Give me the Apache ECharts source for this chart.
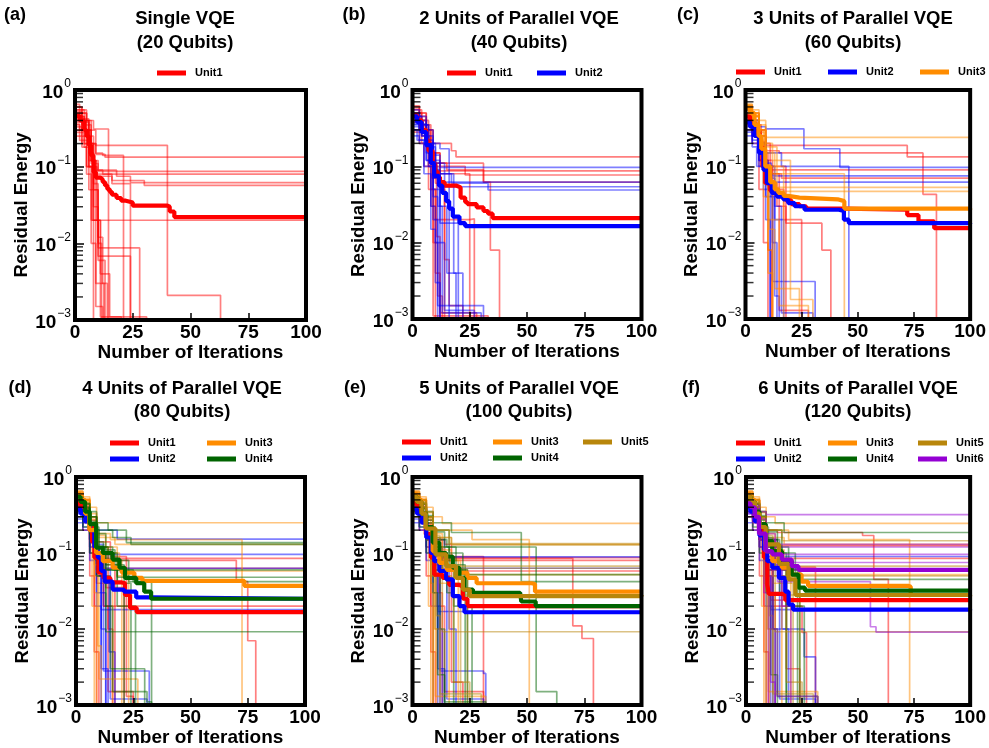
<!DOCTYPE html>
<html><head><meta charset="utf-8">
<script src="https://cdn.jsdelivr.net/npm/echarts@6/dist/echarts.min.js"></script>
<style>html,body{margin:0;padding:0;background:#fff}#c{width:989px;height:748px}</style>
</head><body><div id="c"></div>
<script>
// ---------- labels ----------
const unitNames = ['Unit1','Unit2','Unit3','Unit4','Unit5','Unit6'];
const unitColors = ['#ff0000','#0000ff','#ff8c00','#006400','#b8860b','#9400d3'];
const panelLetters = ['(a)','(b)','(c)','(d)','(e)','(f)'];
const titleLine1 = ['Single VQE','2 Units of Parallel VQE','3 Units of Parallel VQE','4 Units of Parallel VQE','5 Units of Parallel VQE','6 Units of Parallel VQE'];
const titleLine2 = ['(20 Qubits)','(40 Qubits)','(60 Qubits)','(80 Qubits)','(100 Qubits)','(120 Qubits)'];
const xTicks = [0,25,50,75,100];
const yMajor = [1,0.1,0.01,0.001];
const yMinor = [0.002,0.003,0.004,0.005,0.006,0.007,0.008,0.009,0.02,0.03,0.04,0.05,0.06,0.07,0.08,0.09,0.2,0.3,0.4,0.5,0.6,0.7,0.8,0.9];
const OFF = 0.00001; // value below the axis floor (run reached ~0)

// ---------- runs: flat [x, y, x, y, ...] step points ----------
const runsA1 = [
 [0,0.6, 3,0.5, 5,0.35, 7,0.2, 9,0.145, 13,0.133, 100,0.133],
 [0,0.55, 2,0.45, 4,0.3, 6,0.2, 8,0.12, 10,0.087, 100,0.087],
 [0,0.45, 3,0.35, 5,0.22, 7,0.12, 9,0.09, 12,0.08, 100,0.08],
 [0,0.4, 3,0.3, 5,0.2, 7,0.11, 10,0.09, 18,0.075, 24,0.062, 100,0.062],
 [0,0.35, 2,0.28, 4,0.18, 6,0.1, 9,0.08, 16,0.066, 30,0.057, 100,0.057],
 [0,0.3, 3,0.2, 5,0.1, 7.5,0.02, 100,0.0205],
 [0,0.5, 3,0.4, 6,0.3, 9,0.19, 40,0.0021, 63,OFF],
 [0,0.65, 2,0.55, 5,0.4, 8,0.31, 14.5,OFF],
 [0,0.55, 4,0.4, 7,0.2, 9,0.15, 12,0.14, 21,OFF],
 [0,0.45, 4,0.3, 7,0.12, 9,0.075, 16,0.06, 24,OFF],
 [0,0.38, 3,0.3, 6,0.15, 8,0.05, 10,0.0087, 28,OFF],
 [0,0.33, 3,0.25, 6,0.12, 8,0.03, 10,0.0068, 24,OFF],
 [0,0.28, 2,0.22, 5,0.1, 7,0.02, 9,0.003, 11,0.0011, 31,OFF],
 [0,0.25, 3,0.18, 5,0.08, 7,0.01, 9,0.0015, 12,OFF],
 [0,0.5, 3,0.4, 6,0.15, 8,0.05, 10,0.012, 12,0.003, 14,OFF],
 [0,0.42, 3,0.3, 6,0.1, 8,0.02, 10,0.006, 13,OFF],
 [0,0.6, 3,0.5, 5,0.3, 7,0.12, 9,0.02, 11,0.004, 15,0.0011, 20,OFF],
 [0,0.36, 2,0.3, 4,0.2, 6,0.05, 8,OFF],
 [0,0.52, 3,0.42, 6,0.25, 8,0.1, 9.5,0.02, 11,0.003, 12.5,OFF],
 [0,0.47, 3,0.38, 6,0.2, 8,0.06, 10,0.01, 11.5,OFF]
];
const runsB1 = [
 [0,0.6, 3,0.5, 6,0.35, 8,0.2, 17,0.16, 19,0.133, 100,0.133],
 [0,0.5, 3,0.4, 6,0.25, 8,0.12, 10,0.087, 100,0.085],
 [0,0.45, 4,0.3, 7,0.15, 9,0.1, 23,0.077, 100,0.077],
 [0,0.4, 3,0.3, 6,0.18, 9,0.11, 15,0.09, 31,0.062, 100,0.062],
 [0,0.55, 4,0.4, 7,0.2, 9,0.11, 31,0.062, 34,0.008, 38,OFF],
 [0,0.3, 4,0.2, 7,0.05, 10,0.02, 25,0.0205, 27,OFF],
 [0,0.62, 3,0.5, 6,0.3, 9,0.0011, 33,OFF],
 [0,0.45, 3,0.35, 6,0.2, 8,0.05, 10,OFF],
 [0,0.4, 4,0.25, 7,0.1, 9,0.01, 11,0.002, 13,OFF],
 [0,0.5, 4,0.35, 7,0.15, 10,0.06, 14,OFF],
 [0,0.28, 3,0.2, 5,0.1, 8,0.03, 10,0.004, 12,0.0012, 28,OFF],
 [0,0.38, 4,0.3, 8,0.15, 12,0.08, 25,OFF],
 [0,0.56, 3,0.45, 6,0.3, 9,0.15, 12,0.05, 14,0.006, 16,0.0015, 22,OFF],
 [0,0.42, 3,0.33, 6,0.18, 8.5,0.07, 10.5,0.012, 12,OFF]
];
const runsB2 = [
 [0,0.4, 3,0.3, 6,0.2, 9,0.12, 12,0.097, 100,0.097],
 [0,0.45, 4,0.35, 7,0.2, 10,0.08, 14,0.062, 100,0.061],
 [0,0.3, 3,0.22, 6,0.12, 9,0.07, 12,0.054, 100,0.054],
 [0,0.35, 4,0.25, 7,0.15, 10,0.08, 17,0.06, 33,0.049, 100,0.049],
 [0,0.5, 3,0.4, 6,0.3, 9,0.2, 12,0.17, 16,OFF],
 [0,0.42, 3,0.3, 6,0.15, 9,0.02, 11,OFF],
 [0,0.25, 3,0.2, 5,0.1, 8,0.015, 10,0.003, 12,OFF],
 [0,0.38, 3,0.28, 6,0.12, 9,0.05, 12,0.018, 20,OFF],
 [0,0.33, 4,0.25, 7,0.1, 9,0.04, 11,0.0015, 31,OFF],
 [0,0.48, 3,0.35, 7,0.18, 10,0.11, 14,0.08, 18,0.004, 22,OFF],
 [0,0.3, 2,0.22, 5,0.08, 8,0.03, 10,0.01, 14,0.0013, 27,OFF],
 [0,0.55, 3,0.45, 6,0.25, 9,0.14, 12,OFF],
 [0,0.36, 3,0.3, 6,0.18, 9,0.09, 12,0.03, 15,0.004, 19,OFF],
 [0,0.44, 3,0.36, 6,0.22, 9,0.1, 11,0.03, 13,0.0012, 30,OFF]
];
const runsC1 = [
 [0,0.55, 3,0.45, 6,0.3, 9,0.188, 72,0.133, 100,0.133],
 [0,0.5, 3,0.4, 6,0.25, 9,0.16, 15,0.15, 79,0.043, 85,OFF],
 [0,0.45, 4,0.3, 7,0.15, 10,0.09, 100,0.085],
 [0,0.4, 3,0.3, 6,0.15, 9,0.08, 16,0.07, 100,0.07],
 [0,0.35, 3,0.25, 6,0.12, 9,0.06, 14,0.03, 18,0.018, 34,0.008, 38,OFF],
 [0,0.62, 3,0.5, 6,0.3, 9,0.1, 12,OFF],
 [0,0.3, 3,0.2, 6,0.05, 8,0.01, 10,OFF],
 [0,0.42, 4,0.3, 7,0.12, 10,0.05, 17,0.02, 25,OFF],
 [0,0.38, 3,0.3, 6,0.2, 9,0.12, 12,0.08, 15,0.0013, 28,OFF],
 [0,0.5, 4,0.35, 7,0.2, 11,0.1, 18,OFF],
 [0,0.46, 3,0.37, 6,0.21, 8.5,0.06, 10,0.008, 11.5,OFF]
];
const runsC2 = [
 [0,0.45, 3,0.4, 6,0.33, 9,0.31, 26,0.17, 42,0.097, 100,0.097],
 [0,0.4, 3,0.3, 6,0.2, 9,0.15, 16,0.1, 46,OFF],
 [0,0.35, 3,0.25, 6,0.15, 9,0.08, 12,0.075, 100,0.073],
 [0,0.3, 3,0.22, 6,0.12, 9,0.07, 13,0.062, 100,0.062],
 [0,0.38, 3,0.28, 6,0.15, 9,0.02, 11,OFF],
 [0,0.45, 3,0.35, 6,0.2, 9,0.06, 12,0.01, 14,OFF],
 [0,0.28, 3,0.2, 6,0.1, 9,0.04, 12,0.0031, 31,OFF],
 [0,0.33, 3,0.25, 6,0.12, 10,0.05, 13,0.02, 17,OFF],
 [0,0.5, 3,0.4, 6,0.25, 9,0.1, 13,0.03, 16,0.0012, 30,OFF],
 [0,0.25, 3,0.18, 5,0.1, 8,0.05, 11,OFF],
 [0,0.41, 3,0.33, 6,0.2, 9,0.11, 11.5,0.04, 13,0.002, 15,OFF]
];
const runsC3 = [
 [0,0.65, 3,0.55, 6,0.4, 9,0.24, 100,0.24],
 [0,0.6, 3,0.5, 6,0.3, 9,0.15, 13,0.08, 44,OFF],
 [0,0.55, 3,0.45, 6,0.25, 9,0.1, 14,0.053, 100,0.053],
 [0,0.5, 3,0.4, 6,0.2, 9,0.08, 13,0.047, 100,0.047],
 [0,0.62, 3,0.5, 6,0.3, 8,0.1, 10,0.02, 12,OFF],
 [0,0.58, 3,0.45, 6,0.25, 9,0.07, 12,0.02, 15,0.0015, 28,OFF],
 [0,0.55, 3,0.4, 6,0.2, 8,0.04, 10,0.004, 12,OFF],
 [0,0.6, 3,0.45, 6,0.3, 9,0.18, 14,0.1, 17,OFF],
 [0,0.48, 3,0.38, 6,0.22, 8,0.06, 10,0.008, 12,OFF],
 [0,0.65, 3,0.5, 6,0.35, 9,0.2, 12,0.12, 20,0.0018, 30,OFF],
 [0,0.57, 3,0.47, 6,0.28, 8.5,0.09, 10.5,0.015, 13,0.0025, 24,OFF]
];
const runsD1 = [
 [0,0.5, 3,0.4, 6,0.25, 9,0.1, 12,0.085, 100,0.085],
 [0,0.45, 3,0.35, 6,0.2, 9,0.12, 14,0.08, 70,0.042, 75,0.007, 78.5,OFF],
 [0,0.4, 3,0.3, 6,0.15, 9,0.07, 12,0.063, 100,0.063],
 [0,0.35, 3,0.25, 6,0.1, 9,0.04, 12,0.02, 100,0.02],
 [0,0.55, 3,0.4, 6,0.2, 8,0.02, 9,OFF],
 [0,0.3, 3,0.2, 6,0.05, 8,0.005, 10,OFF],
 [0,0.42, 3,0.3, 6,0.15, 9,0.06, 12,0.02, 14,0.0015, 25,OFF],
 [0,0.6, 3,0.5, 6,0.3, 9,0.1, 13,0.07, 17,OFF],
 [0,0.38, 3,0.28, 6,0.12, 9,0.05, 13,0.035, 21,OFF],
 [0,0.48, 3,0.4, 6,0.24, 9,0.12, 12,0.06, 14,0.01, 16,OFF],
 [0,0.52, 3,0.43, 6,0.27, 9,0.14, 15,0.09, 22,0.0013, 25,OFF]
];
const runsD2 = [
 [0,0.4, 3,0.35, 6,0.3, 9,0.2, 18,0.152, 100,0.152],
 [0,0.35, 3,0.3, 6,0.2, 9,0.12, 12,0.096, 100,0.096],
 [0,0.3, 3,0.25, 6,0.15, 9,0.08, 13,0.063, 100,0.063],
 [0,0.38, 3,0.3, 6,0.15, 9,0.05, 11,0.018, 100,0.018],
 [0,0.45, 3,0.35, 6,0.2, 9,0.05, 11,0.01, 13,OFF],
 [0,0.28, 3,0.22, 6,0.1, 9,0.03, 11,0.003, 14,OFF],
 [0,0.33, 3,0.26, 6,0.12, 9,0.05, 12,0.0028, 32,OFF],
 [0,0.5, 3,0.4, 6,0.25, 9,0.12, 12,0.06, 15,0.0012, 31,OFF],
 [0,0.25, 3,0.2, 6,0.08, 9,0.02, 11,OFF],
 [0,0.42, 3,0.34, 6,0.22, 9,0.13, 12,0.04, 14.5,0.005, 17,OFF],
 [0,0.36, 3,0.3, 6,0.19, 9,0.1, 11,0.03, 13,OFF]
];
const runsD3 = [
 [0,0.65, 3,0.55, 6,0.4, 9,0.25, 100,0.245],
 [0,0.6, 3,0.5, 6,0.3, 9,0.18, 15,0.15, 72.5,OFF],
 [0,0.55, 3,0.45, 6,0.3, 9,0.16, 17,0.13, 100,0.13],
 [0,0.5, 3,0.4, 6,0.25, 9,0.12, 14,0.1, 19,0.058, 100,0.058],
 [0,0.62, 3,0.5, 6,0.2, 7,0.02, 8,OFF],
 [0,0.58, 3,0.45, 6,0.2, 8,0.03, 9,OFF],
 [0,0.55, 3,0.4, 6,0.2, 8,0.05, 10,0.0022, 27,OFF],
 [0,0.65, 3,0.5, 6,0.3, 9,0.1, 12,0.04, 16,OFF],
 [0,0.5, 3,0.38, 6,0.2, 9,0.1, 13,0.08, 20,OFF],
 [0,0.6, 3,0.48, 6,0.28, 8,0.07, 9.5,0.006, 11,OFF],
 [0,0.63, 3,0.52, 6,0.33, 9,0.17, 13,0.12, 18,0.05, 23,OFF]
];
const runsD4 = [
 [0,0.55, 3,0.45, 6,0.35, 9,0.25, 14,0.2, 22,0.137, 100,0.137],
 [0,0.5, 3,0.4, 6,0.3, 9,0.2, 16,0.16, 24,0.13, 100,0.13],
 [0,0.45, 3,0.35, 6,0.25, 9,0.12, 14,0.06, 100,0.052],
 [0,0.4, 3,0.32, 6,0.2, 9,0.1, 13,0.07, 18,0.048, 100,0.048],
 [0,0.35, 3,0.28, 6,0.18, 9,0.1, 15,0.08, 23,0.042, 100,0.042],
 [0,0.3, 3,0.22, 6,0.1, 9,0.05, 13,0.0092, 100,0.0092],
 [0,0.5, 3,0.38, 6,0.22, 10,0.12, 16,0.06, 25,0.042, 33,OFF],
 [0,0.42, 3,0.33, 6,0.2, 10,0.1, 18,0.04, 24,OFF],
 [0,0.38, 3,0.3, 6,0.18, 9,0.08, 13,0.02, 16,0.0015, 31,0.0011, 33,OFF],
 [0,0.45, 3,0.35, 6,0.22, 9,0.12, 13,0.06, 18,0.02, 26,OFF],
 [0,0.53, 3,0.44, 6,0.3, 9,0.18, 13,0.11, 17,0.07, 21,OFF],
 [0,0.47, 3,0.39, 6,0.26, 9,0.14, 12,0.05, 15,0.003, 30,OFF]
];
const runsE1 = [
 [0,0.5, 3,0.4, 6,0.25, 9,0.12, 12,0.087, 100,0.087],
 [0,0.45, 3,0.35, 6,0.2, 9,0.12, 13,0.085, 70,0.011, 74,0.0075, 79,OFF],
 [0,0.4, 3,0.3, 6,0.15, 9,0.09, 13,0.08, 100,0.08],
 [0,0.35, 3,0.25, 6,0.12, 9,0.07, 13,0.058, 100,0.058],
 [0,0.55, 3,0.4, 6,0.2, 8,0.02, 9,OFF],
 [0,0.3, 3,0.2, 6,0.05, 8,0.005, 10,OFF],
 [0,0.42, 3,0.3, 6,0.15, 9,0.06, 12,0.02, 14,0.0015, 31,OFF],
 [0,0.6, 3,0.5, 6,0.3, 9,0.15, 14,0.13, 17,0.09, 31,OFF],
 [0,0.48, 3,0.39, 6,0.24, 9,0.11, 11.5,0.03, 13,OFF],
 [0,0.52, 3,0.43, 6,0.27, 9,0.15, 13,0.08, 17,0.002, 22,OFF]
];
const runsE2 = [
 [0,0.4, 3,0.35, 6,0.25, 9,0.15, 14,0.089, 100,0.089],
 [0,0.35, 3,0.3, 6,0.2, 9,0.12, 13,0.063, 100,0.063],
 [0,0.38, 3,0.3, 6,0.15, 9,0.05, 11,0.017, 100,0.0166],
 [0,0.45, 3,0.35, 6,0.2, 9,0.05, 11,0.01, 13,OFF],
 [0,0.28, 3,0.22, 6,0.1, 9,0.03, 11,0.003, 14,OFF],
 [0,0.33, 3,0.26, 6,0.12, 9,0.05, 12,0.0028, 31,0.0026, 32,OFF],
 [0,0.5, 3,0.4, 6,0.25, 9,0.12, 12,0.06, 15,0.0012, 31,OFF],
 [0,0.25, 3,0.2, 6,0.08, 9,0.02, 11,OFF],
 [0,0.42, 3,0.34, 6,0.21, 9,0.12, 12,0.07, 16,0.01, 19,OFF],
 [0,0.37, 3,0.31, 6,0.18, 8.5,0.08, 10.5,0.02, 12,OFF]
];
const runsE3 = [
 [0,0.65, 3,0.55, 6,0.4, 9,0.3, 13,0.245, 100,0.245],
 [0,0.6, 3,0.5, 6,0.3, 9,0.2, 26,0.15, 51,OFF],
 [0,0.55, 3,0.45, 6,0.3, 9,0.16, 17,0.13, 100,0.13],
 [0,0.5, 3,0.4, 6,0.25, 9,0.12, 14,0.08, 21,0.052, 100,0.052],
 [0,0.62, 3,0.5, 6,0.2, 7,0.02, 8,OFF],
 [0,0.58, 3,0.45, 6,0.2, 8,0.03, 9,OFF],
 [0,0.55, 3,0.4, 6,0.2, 8,0.05, 10,0.0013, 32,OFF],
 [0,0.65, 3,0.5, 6,0.3, 9,0.1, 12,0.04, 16,OFF],
 [0,0.5, 3,0.38, 6,0.2, 9,0.1, 13,0.08, 20,OFF],
 [0,0.6, 3,0.49, 6,0.29, 8,0.08, 9.5,0.01, 10.5,OFF],
 [0,0.63, 3,0.52, 6,0.34, 9,0.18, 13,0.11, 17,0.06, 24,OFF]
];
const runsE4 = [
 [0,0.55, 3,0.45, 6,0.35, 9,0.25, 17,0.186, 47.5,0.042, 100,0.042],
 [0,0.5, 3,0.4, 6,0.3, 9,0.2, 16,0.1, 22,0.052, 100,0.052],
 [0,0.45, 3,0.35, 6,0.25, 9,0.15, 15,0.12, 54,0.0015, 63,OFF],
 [0,0.4, 3,0.32, 6,0.2, 9,0.1, 13,0.06, 18,0.02, 26,OFF],
 [0,0.35, 3,0.28, 6,0.15, 9,0.06, 12,0.01, 14,OFF],
 [0,0.3, 3,0.22, 6,0.1, 9,0.03, 11,0.0025, 14,0.0011, 32,OFF],
 [0,0.5, 3,0.38, 6,0.22, 10,0.12, 16,0.06, 24,OFF],
 [0,0.47, 3,0.39, 6,0.27, 9,0.16, 12,0.09, 15,0.03, 18,OFF],
 [0,0.53, 3,0.44, 6,0.31, 9,0.19, 14,0.12, 19,0.07, 23,OFF]
];
const runsE5 = [
 [0,0.6, 3,0.5, 6,0.35, 9,0.2, 16,0.133, 100,0.133],
 [0,0.55, 3,0.45, 6,0.3, 9,0.16, 17,0.128, 100,0.128],
 [0,0.5, 3,0.4, 6,0.25, 9,0.1, 13,0.067, 100,0.067],
 [0,0.45, 3,0.35, 6,0.2, 9,0.09, 12,0.063, 100,0.063],
 [0,0.4, 3,0.3, 6,0.15, 9,0.05, 13,0.0092, 100,0.0092],
 [0,0.55, 3,0.4, 6,0.2, 8,0.04, 9,OFF],
 [0,0.5, 3,0.38, 6,0.2, 8,0.05, 10,0.01, 12,OFF],
 [0,0.6, 3,0.45, 6,0.28, 9,0.12, 13,0.06, 18,0.002, 25,OFF],
 [0,0.45, 3,0.35, 6,0.2, 9,0.1, 13,0.05, 17,0.028, 100,0.027],
 [0,0.58, 3,0.47, 6,0.3, 9,0.17, 12,0.1, 15,0.04, 21,OFF],
 [0,0.43, 3,0.34, 6,0.19, 8.5,0.07, 10.5,0.015, 12,0.0014, 30,OFF]
];
const runsF1 = [
 [0,0.5, 3,0.4, 6,0.3, 9,0.2, 14,0.186, 52,0.17, 57,0.045, 63.5,OFF],
 [0,0.45, 3,0.35, 6,0.2, 9,0.14, 13,0.125, 100,0.125],
 [0,0.4, 3,0.3, 6,0.15, 9,0.1, 13,0.085, 100,0.085],
 [0,0.35, 3,0.25, 6,0.12, 9,0.03, 11,0.024, 100,0.024],
 [0,0.55, 3,0.4, 6,0.2, 8,0.02, 9,OFF],
 [0,0.42, 3,0.3, 6,0.15, 9,0.06, 12,0.02, 25,0.009, 27,OFF],
 [0,0.6, 3,0.5, 6,0.3, 9,0.15, 14,0.065, 31,OFF],
 [0,0.3, 3,0.2, 6,0.05, 8,0.005, 10,OFF],
 [0,0.48, 3,0.39, 6,0.24, 9,0.11, 11.5,0.03, 13,OFF],
 [0,0.53, 3,0.44, 6,0.28, 9,0.15, 13,0.08, 18,0.003, 24,OFF]
];
const runsF2 = [
 [0,0.4, 3,0.35, 6,0.25, 9,0.15, 14,0.09, 100,0.09],
 [0,0.35, 3,0.3, 6,0.2, 9,0.12, 13,0.062, 100,0.062],
 [0,0.38, 3,0.3, 6,0.15, 9,0.05, 11,0.018, 100,0.0176],
 [0,0.45, 3,0.35, 6,0.2, 9,0.05, 11,0.01, 13,OFF],
 [0,0.33, 3,0.26, 6,0.12, 9,0.05, 12,0.01, 26,0.0043, 31,OFF],
 [0,0.5, 3,0.4, 6,0.25, 9,0.12, 12,0.06, 15,0.0012, 31,OFF],
 [0,0.25, 3,0.2, 6,0.08, 9,0.02, 11,OFF],
 [0,0.42, 3,0.34, 6,0.21, 9,0.12, 12,0.07, 16,0.01, 19,OFF],
 [0,0.37, 3,0.31, 6,0.18, 8.5,0.08, 10.5,0.02, 12,OFF]
];
const runsF3 = [
 [0,0.65, 3,0.55, 6,0.4, 9,0.3, 13,0.245, 100,0.245],
 [0,0.6, 3,0.5, 6,0.3, 9,0.2, 19,0.15, 73,OFF],
 [0,0.55, 3,0.45, 6,0.3, 9,0.16, 17,0.13, 100,0.13],
 [0,0.5, 3,0.4, 6,0.25, 9,0.12, 14,0.08, 21,0.052, 100,0.052],
 [0,0.62, 3,0.5, 6,0.2, 7,0.02, 8,OFF],
 [0,0.55, 3,0.4, 6,0.2, 8,0.05, 10,0.0015, 32,OFF],
 [0,0.65, 3,0.5, 6,0.3, 9,0.1, 12,0.04, 16,OFF],
 [0,0.5, 3,0.38, 6,0.2, 9,0.1, 13,0.08, 20,OFF],
 [0,0.6, 3,0.49, 6,0.29, 8,0.08, 9.5,0.01, 10.5,OFF],
 [0,0.63, 3,0.52, 6,0.34, 9,0.18, 13,0.11, 17,0.06, 24,OFF]
];
const runsF4 = [
 [0,0.55, 3,0.45, 6,0.35, 9,0.25, 17,0.186, 100,0.186],
 [0,0.5, 3,0.4, 6,0.3, 9,0.2, 16,0.1, 22,0.045, 100,0.045],
 [0,0.45, 3,0.35, 6,0.25, 9,0.15, 15,0.1, 18,OFF],
 [0,0.4, 3,0.32, 6,0.2, 9,0.1, 13,0.06, 18,0.02, 26,OFF],
 [0,0.35, 3,0.28, 6,0.15, 9,0.06, 12,0.01, 14,OFF],
 [0,0.3, 3,0.22, 6,0.1, 9,0.03, 11,0.0025, 14,0.0013, 32,OFF],
 [0,0.5, 3,0.38, 6,0.22, 10,0.12, 16,0.06, 24,OFF],
 [0,0.47, 3,0.39, 6,0.27, 9,0.16, 12,0.09, 15,0.03, 18,OFF],
 [0,0.53, 3,0.44, 6,0.31, 9,0.19, 14,0.12, 19,0.07, 23,OFF]
];
const runsF5 = [
 [0,0.6, 3,0.5, 6,0.35, 9,0.2, 16,0.145, 100,0.14],
 [0,0.5, 3,0.4, 6,0.25, 9,0.1, 13,0.067, 100,0.067],
 [0,0.45, 3,0.35, 6,0.2, 9,0.09, 12,0.05, 100,0.048],
 [0,0.4, 3,0.3, 6,0.15, 9,0.05, 13,0.0092, 100,0.0092],
 [0,0.55, 3,0.4, 6,0.2, 8,0.04, 9,OFF],
 [0,0.5, 3,0.38, 6,0.2, 8,0.05, 10,0.01, 12,OFF],
 [0,0.6, 3,0.45, 6,0.28, 9,0.12, 13,0.06, 18,0.002, 25,OFF],
 [0,0.45, 3,0.35, 6,0.2, 9,0.1, 13,0.05, 17,0.028, 100,0.027],
 [0,0.58, 3,0.47, 6,0.3, 9,0.17, 12,0.1, 15,0.04, 21,OFF],
 [0,0.43, 3,0.34, 6,0.19, 8.5,0.07, 10.5,0.015, 12,0.0014, 30,OFF]
];
const runsF6 = [
 [0,0.5, 3,0.42, 6,0.35, 9,0.32, 100,0.32],
 [0,0.45, 3,0.38, 6,0.28, 9,0.18, 13,0.13, 100,0.13],
 [0,0.42, 3,0.35, 6,0.25, 9,0.15, 13,0.12, 100,0.118],
 [0,0.4, 3,0.32, 6,0.2, 9,0.12, 13,0.096, 100,0.096],
 [0,0.38, 3,0.3, 6,0.18, 9,0.1, 13,0.075, 100,0.075],
 [0,0.35, 3,0.28, 6,0.15, 9,0.08, 14,0.042, 55.5,0.0107, 58,0.0091, 100,0.0091],
 [0,0.3, 3,0.25, 6,0.12, 8,0.03, 10,OFF],
 [0,0.48, 3,0.38, 6,0.2, 9,0.06, 12,0.01, 14,0.0013, 32,OFF],
 [0,0.4, 3,0.3, 6,0.15, 9,0.05, 11,0.002, 13,OFF],
 [0,0.33, 3,0.27, 6,0.16, 9,0.09, 12,0.06, 100,0.058],
 [0,0.44, 3,0.36, 6,0.23, 9,0.13, 12,0.08, 16,0.02, 20,OFF]
];

// ---------- mean curves (thick) ----------
const meanA1 = [0,0.46, 2,0.4, 4,0.3, 5,0.25, 6,0.19, 7,0.14, 8,0.085, 9,0.072, 11,0.068, 12,0.063, 13,0.057, 14,0.051, 15,0.047, 16,0.043, 18,0.039, 20,0.036, 22,0.034, 25,0.031, 40,0.03, 41,0.026, 43,0.022, 100,0.0217];
const meanB1 = [0,0.47, 2,0.4, 4,0.3, 6,0.22, 7,0.16, 8.8,0.108, 10,0.085, 11,0.072, 12,0.062, 14,0.056, 19,0.053, 21,0.039, 23,0.034, 24,0.032, 28,0.029, 31,0.026, 33,0.024, 35,0.021, 100,0.021];
const meanB2 = [0,0.45, 2,0.38, 4,0.28, 6,0.19, 8,0.11, 9.5,0.075, 11.5,0.056, 13,0.045, 14.7,0.035, 16,0.028, 17.6,0.022, 20.5,0.018, 23,0.0165, 100,0.0165];
const meanC1 = [0,0.45, 2,0.38, 4,0.28, 6,0.18, 7.5,0.1, 8.8,0.06, 11,0.048, 13,0.044, 16.4,0.041, 18,0.036, 20.4,0.032, 24,0.03, 27,0.028, 44,0.027, 72,0.023, 77,0.019, 84,0.0155, 100,0.0155];
const meanC2 = [0,0.38, 2,0.33, 4,0.25, 6,0.15, 8,0.09, 9.5,0.06, 11.7,0.045, 14,0.04, 16.8,0.037, 19,0.033, 21.9,0.03, 26.3,0.027, 41.6,0.026, 43.8,0.02, 46,0.018, 100,0.0175];
const meanC3 = [0,0.6, 2,0.5, 4,0.35, 5.8,0.25, 7,0.17, 8.8,0.1, 11,0.062, 13,0.05, 14.6,0.045, 17,0.041, 19,0.039, 24,0.037, 41,0.035, 44,0.028, 100,0.027];
const meanD1 = [0,0.45, 2,0.4, 4,0.32, 5.8,0.24, 7,0.14, 8,0.087, 9.8,0.055, 12,0.047, 15,0.041, 20,0.04, 21.4,0.028, 23.6,0.019, 26.5,0.0167, 100,0.017];
const meanD2 = [0,0.38, 2,0.33, 4,0.26, 6,0.2, 8,0.12, 9.5,0.087, 11,0.058, 12.5,0.042, 16,0.033, 21,0.031, 26.3,0.026, 32,0.025, 100,0.025];
const meanD3 = [0,0.6, 2,0.5, 4,0.33, 5.8,0.2, 8.8,0.1, 11.7,0.078, 16,0.064, 20,0.055, 25.5,0.047, 29,0.043, 72,0.043, 73.5,0.037, 100,0.036];
const meanD4 = [0,0.55, 2,0.47, 4,0.35, 6,0.24, 8.8,0.118, 11.7,0.1, 16,0.082, 19,0.064, 21.4,0.047, 26.3,0.04, 29.8,0.031, 32.8,0.025, 100,0.025];
const meanE1 = [0,0.45, 2,0.38, 4,0.28, 5.8,0.177, 8,0.087, 9.5,0.052, 13.2,0.047, 16,0.038, 20.5,0.036, 22,0.025, 24,0.02, 100,0.02];
const meanE2 = [0,0.38, 2,0.33, 4,0.25, 6,0.16, 8,0.1, 9.5,0.078, 11.7,0.058, 14.7,0.045, 17.6,0.027, 20.5,0.02, 22.7,0.0166, 100,0.0166];
const meanE3 = [0,0.6, 2,0.5, 4,0.33, 5.8,0.22, 8.8,0.106, 11.7,0.074, 15,0.06, 20,0.055, 24,0.047, 28,0.04, 52,0.039, 53.5,0.031, 100,0.031];
const meanE4 = [0,0.55, 2,0.47, 4,0.33, 6,0.22, 8.8,0.137, 11.7,0.1, 14.7,0.09, 17.6,0.064, 20.5,0.047, 22.7,0.033, 26.4,0.03, 47,0.03, 47.5,0.023, 53.8,0.02, 100,0.02];
const meanE5 = [0,0.55, 2,0.47, 4,0.33, 5.8,0.21, 10,0.096, 14.7,0.067, 19,0.047, 22,0.033, 25,0.027, 100,0.028];
const meanF1 = [0,0.5, 2,0.42, 4,0.3, 5.8,0.196, 8,0.087, 9.5,0.038, 10.2,0.029, 16,0.028, 17.5,0.024, 100,0.024];
const meanF2 = [0,0.4, 2,0.35, 4,0.26, 6,0.17, 8,0.11, 9.5,0.078, 11.7,0.064, 14.7,0.047, 17.5,0.031, 19,0.021, 21,0.018, 100,0.0176];
const meanF3 = [0,0.6, 2,0.5, 4,0.33, 5.8,0.23, 8.8,0.106, 11.7,0.078, 16,0.064, 20.4,0.052, 24.8,0.042, 27.7,0.037, 72.3,0.036, 73.5,0.028, 100,0.028];
const meanF4 = [0,0.55, 2,0.47, 4,0.35, 6,0.24, 8.8,0.144, 11.7,0.106, 16,0.078, 20.4,0.052, 23.4,0.035, 26.3,0.032, 100,0.032];
const meanF5 = [0,0.55, 2,0.47, 4,0.33, 6,0.22, 8.8,0.13, 14.7,0.072, 19,0.045, 22,0.028, 100,0.027];
const meanF6 = [0,0.45, 2,0.4, 4,0.3, 5.8,0.18, 8.8,0.106, 11.7,0.096, 16,0.082, 20.4,0.067, 23.4,0.06, 100,0.059];

const panelRuns = [[runsA1],[runsB1,runsB2],[runsC1,runsC2,runsC3],[runsD1,runsD2,runsD3,runsD4],[runsE1,runsE2,runsE3,runsE4,runsE5],[runsF1,runsF2,runsF3,runsF4,runsF5,runsF6]];
const panelMeans = [[meanA1],[meanB1,meanB2],[meanC1,meanC2,meanC3],[meanD1,meanD2,meanD3,meanD4],[meanE1,meanE2,meanE3,meanE4,meanE5],[meanF1,meanF2,meanF3,meanF4,meanF5,meanF6]];

// ---------- layout ----------
const FONT = '"Liberation Sans", Arial, sans-serif';
const gridRects = [
  {l:75, r:306, t:90, b:320}, {l:412.5, r:641.5, t:90, b:319}, {l:745.5, r:975.5, t:90, b:319},
  {l:76, r:305, t:477, b:705}, {l:412.5, r:641.5, t:477, b:705}, {l:746, r:976, t:477, b:705}
];
const titleCX = [185, 519, 853, 182, 519, 858];
const titleY = [[19,43],[19,43],[19,43],[389,412],[389,412],[389,412]];
const letterPos = [[15,15],[354,15],[688,15],[20,388],[355,388],[691,388]];
const legendCols = [
  {left:157, top:65, names:['Unit1']},
  {left:447, top:65, names:['Unit1']}, {left:537, top:65, names:['Unit2']},
  {left:736, top:64, names:['Unit1']}, {left:828, top:64, names:['Unit2']}, {left:920, top:64, names:['Unit3']},
  {left:110, top:435, names:['Unit1','Unit2']}, {left:207, top:435, names:['Unit3','Unit4']},
  {left:402, top:434, names:['Unit1','Unit2']}, {left:493, top:434, names:['Unit3','Unit4']}, {left:583, top:434, names:['Unit5']},
  {left:736, top:435, names:['Unit1','Unit2']}, {left:828, top:435, names:['Unit3','Unit4']}, {left:918, top:435, names:['Unit5','Unit6']}
];

function pairs(flat){ const out=[]; for(let i=0;i<flat.length;i+=2) out.push([flat[i], flat[i+1]]); return out; }
function hexA(hex,a){ const n=parseInt(hex.slice(1),16); return 'rgba('+((n>>16)&255)+','+((n>>8)&255)+','+(n&255)+','+a+')'; }

const grids=[], xAxes=[], yAxes=[], series=[], graphics=[];
gridRects.forEach((g,p)=>{
  grids.push({left:g.l, top:g.t, width:g.r-g.l, height:g.b-g.t, show:true, borderColor:'#000', borderWidth:4, backgroundColor:'transparent', z:5});
  xAxes.push({type:'value', gridIndex:p, min:0, max:100, interval:25, z:6,
    axisLine:{show:false}, splitLine:{show:false},
    axisTick:{show:true, inside:true, length:7, lineStyle:{color:'#000', width:1.5}},
    axisLabel:{show:true, margin:3, color:'#000', fontSize:19, fontWeight:'bold', fontFamily:FONT, formatter:v=>xTicks.includes(v)?String(v):''},
    name:'Number of Iterations', nameLocation:'middle', nameGap:21,
    nameTextStyle:{color:'#000', fontSize:19, fontWeight:'bold', fontFamily:FONT}});
  yAxes.push({type:'log', logBase:10, gridIndex:p, min:0.001, max:1, splitNumber:3, z:6,
    axisLine:{show:false}, splitLine:{show:false},
    axisTick:{show:true, inside:true, length:9, lineStyle:{color:'#000', width:1.5}},
    axisLabel:{show:true, margin:4, color:'#000', fontFamily:FONT,
      formatter:v=>{ if(!yMajor.some(m=>Math.abs(m-v)<1e-9)) return ''; const e=Math.round(Math.log10(v)); return '{b|10}{s|'+(e<0?'\u2212'+(-e):e)+'}'; },
      rich:{ b:{fontSize:19, fontWeight:'bold', fontFamily:FONT, color:'#000', lineHeight:24, verticalAlign:'bottom'},
             s:{fontSize:12, fontFamily:FONT, color:'#000', lineHeight:24, verticalAlign:'top', padding:[0,0,0,1]} }},
    name:'Residual Energy', nameLocation:'middle', nameGap:44,
    nameTextStyle:{color:'#000', fontSize:18.5, fontWeight:'bold', fontFamily:FONT}});
  // thin runs
  panelRuns[p].forEach((runs,u)=>{
    runs.forEach(run=>{
      series.push({type:'line', xAxisIndex:p, yAxisIndex:p, data:pairs(run), step:'end',
        symbol:'none', silent:true, animation:false, clip:true, z:2,
        lineStyle:{width:1.7, color:hexA(unitColors[u],0.5)}});
    });
  });
  // mean curves
  panelMeans[p].forEach((m,u)=>{
    series.push({type:'line', name:unitNames[u], xAxisIndex:p, yAxisIndex:p, data:pairs(m), step:'end',
      symbol:'none', silent:true, animation:false, clip:true, z:3, color:unitColors[u],
      lineStyle:{width:4.2, color:unitColors[u]}});
  });
  // minor log ticks
  series.push({type:'scatter', xAxisIndex:p, yAxisIndex:p, data:yMinor.map(v=>[0,v]), symbol:'rect',
    symbolSize:[7,1.5], symbolOffset:[4.5,0], itemStyle:{color:'#000'}, silent:true, animation:false, clip:false, z:7});
  // titles and panel letters
  graphics.push({type:'text', x:titleCX[p], y:titleY[p][0], style:{text:titleLine1[p], font:'bold 18.5px '+FONT, fill:'#000', textAlign:'center', textVerticalAlign:'middle'}});
  graphics.push({type:'text', x:titleCX[p], y:titleY[p][1], style:{text:titleLine2[p], font:'bold 18.5px '+FONT, fill:'#000', textAlign:'center', textVerticalAlign:'middle'}});
  graphics.push({type:'text', x:letterPos[p][0], y:letterPos[p][1], style:{text:panelLetters[p], font:'bold 18px '+FONT, fill:'#000', textAlign:'center', textVerticalAlign:'middle'}});
});

const legends = legendCols.map(c=>({
  left:c.left, top:c.top, orient:'vertical', padding:0, itemGap:0, itemWidth:29, itemHeight:5, icon:'rect', selectedMode:false,
  textStyle:{color:'#000', fontSize:11, fontWeight:'bold', fontFamily:FONT, lineHeight:16, padding:[0,0,0,4]},
  data:c.names.map(n=>({name:n, itemStyle:{color:unitColors[unitNames.indexOf(n)]}}))
}));

const chart = echarts.init(document.getElementById('c'), null, {renderer:'canvas'});
chart.setOption({animation:false, backgroundColor:'#fff', grid:grids, xAxis:xAxes, yAxis:yAxes, legend:legends, series:series, graphic:graphics});
</script></body></html>
